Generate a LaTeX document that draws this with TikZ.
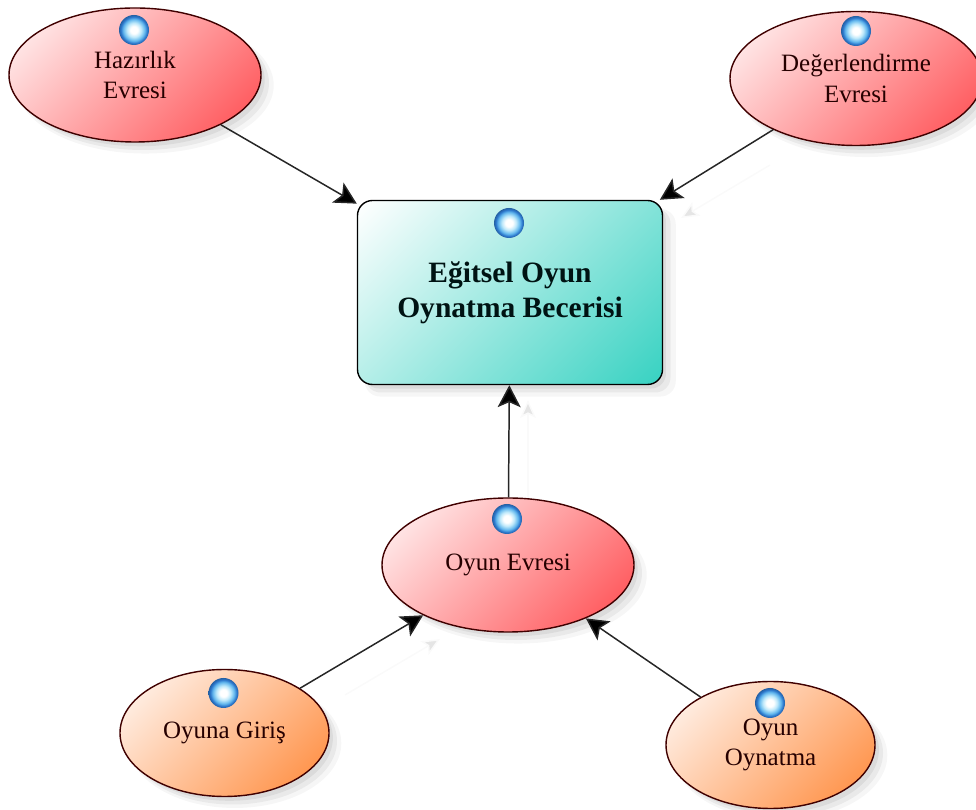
\documentclass[tikz,border=0pt]{standalone}
\usepackage{fontspec}
\setmainfont{Liberation Serif}
\usetikzlibrary{arrows.meta,shadows,shapes.geometric}
\definecolor{redstart}{HTML}{FFEDED}
\definecolor{redend}{HTML}{FF5559}
\definecolor{orangestart}{HTML}{FFF2EA}
\definecolor{orangeend}{HTML}{FF9045}
\definecolor{tealend}{HTML}{38D2C2}
\definecolor{orbmid}{HTML}{BDE8FA}
\definecolor{orbedge}{HTML}{63B8EE}
\definecolor{orbrim}{HTML}{2D78CC}
\pgfdeclareradialshading{orbshade}{\pgfpoint{0bp}{0bp}}{
	color(0bp)=(white);
	color(6bp)=(white);
	color(12bp)=(orbmid);
	color(18bp)=(orbedge);
	color(22bp)=(orbrim);
	color(25bp)=(orbrim!80!black);
	color(50bp)=(orbrim!80!black)
}
\pgfdeclareverticalshading{redfade}{100bp}{color(0bp)=(redend); color(20bp)=(redend); color(80bp)=(redstart); color(100bp)=(redstart)}
\pgfdeclareverticalshading{orangefade}{100bp}{color(0bp)=(orangeend); color(20bp)=(orangeend); color(80bp)=(orangestart); color(100bp)=(orangestart)}
\pgfdeclareverticalshading{tealfade}{100bp}{color(0bp)=(tealend); color(15bp)=(tealend); color(85bp)=(white); color(100bp)=(white)}
\tikzset{
	softshadow/.style={
		general shadow={fill=black,opacity=0.035,shadow xshift=0.2cm,shadow yshift=-0.2cm,shadow scale=1.02},
		general shadow={fill=black,opacity=0.05,shadow xshift=0.16cm,shadow yshift=-0.16cm},
		general shadow={fill=black,opacity=0.06,shadow xshift=0.1cm,shadow yshift=-0.1cm,shadow scale=0.99}
	},
	phase/.style={ellipse,draw=black!75!red,line width=0.8pt,minimum width=5.04cm,minimum height=2.68cm,inner sep=0pt,align=center,font=\fontsize{14.2}{17.5}\selectfont,text=black!85!red,shading=redfade,shading angle=45,softshadow},
	substep/.style={phase,minimum width=4.18cm,minimum height=2.54cm,shading=orangefade,shading angle=45},
	skill/.style={rectangle,rounded corners=0.3cm,draw=black,line width=0.8pt,minimum width=6.1cm,minimum height=3.68cm,inner sep=0pt,align=center,font=\fontsize{16.8}{19.8}\selectfont\bfseries,text=black!85!teal,shading=tealfade,shading angle=45,softshadow},
	orb/.style={circle,minimum size=0.6cm,inner sep=0pt,shading=orbshade},
	link/.style={draw=black!85,line width=0.85pt,-{Stealth[length=0.44cm,width=0.46cm,inset=0.1cm,fill=black]}},
	ghost/.style={draw=black!2,line width=0.85pt,-{Stealth[length=0.36cm,width=0.32cm,inset=0.08cm,fill=black!10]}}
}
\begin{document}
\begin{tikzpicture}
	\useasboundingbox (0, 0) rectangle (19.52, 16.2);

	% faint copies of the connectors
	\coordinate (ghostA) at (15.4, 12.9);
	\coordinate (ghostAend) at (13.62, 11.84);
	\coordinate (ghostB) at (10.56, 5.9);
	\coordinate (ghostBend) at (10.56, 8.2);
	\coordinate (ghostC) at (6.9, 2.3);
	\coordinate (ghostCend) at (8.8, 3.42);
	\draw [ghost] (ghostA) -- (ghostAend);
	\draw [ghost] (ghostB) -- (ghostBend);
	\draw [ghost] (ghostC) -- (ghostCend);

	\node [phase] (hazirlik) at (2.7, 14.7) {Hazırlık\\Evresi};
	\node [phase] (degerlendirme) at (17.12, 14.63) {Değerlendirme\\Evresi};
	\node [skill] (egitsel) at (10.2, 10.35) {Eğitsel Oyun\\Oynatma Becerisi};
	\node [phase] (evre) at (10.16, 4.9) {Oyun Evresi};
	\node [substep] (giris) at (4.49, 1.54) {Oyuna Giriş};
	\node [substep] (oynatma) at (15.41, 1.3) {Oyun\\Oynatma};

	\node [orb] (orbA) at (2.68, 15.6) {};
	\node [orb] (orbB) at (17.12, 15.58) {};
	\node [orb] (orbC) at (10.18, 11.74) {};
	\node [orb] (orbD) at (10.14, 5.82) {};
	\node [orb] (orbE) at (4.47, 2.34) {};
	\node [orb] (orbF) at (15.4, 2.14) {};

	\draw [link] (hazirlik) -- (egitsel);
	\draw [link] (degerlendirme) -- (egitsel);
	\draw [link] (evre) -- (egitsel);
	\draw [link] (giris) -- (evre);
	\draw [link] (oynatma) -- (evre);
\end{tikzpicture}
\end{document}
